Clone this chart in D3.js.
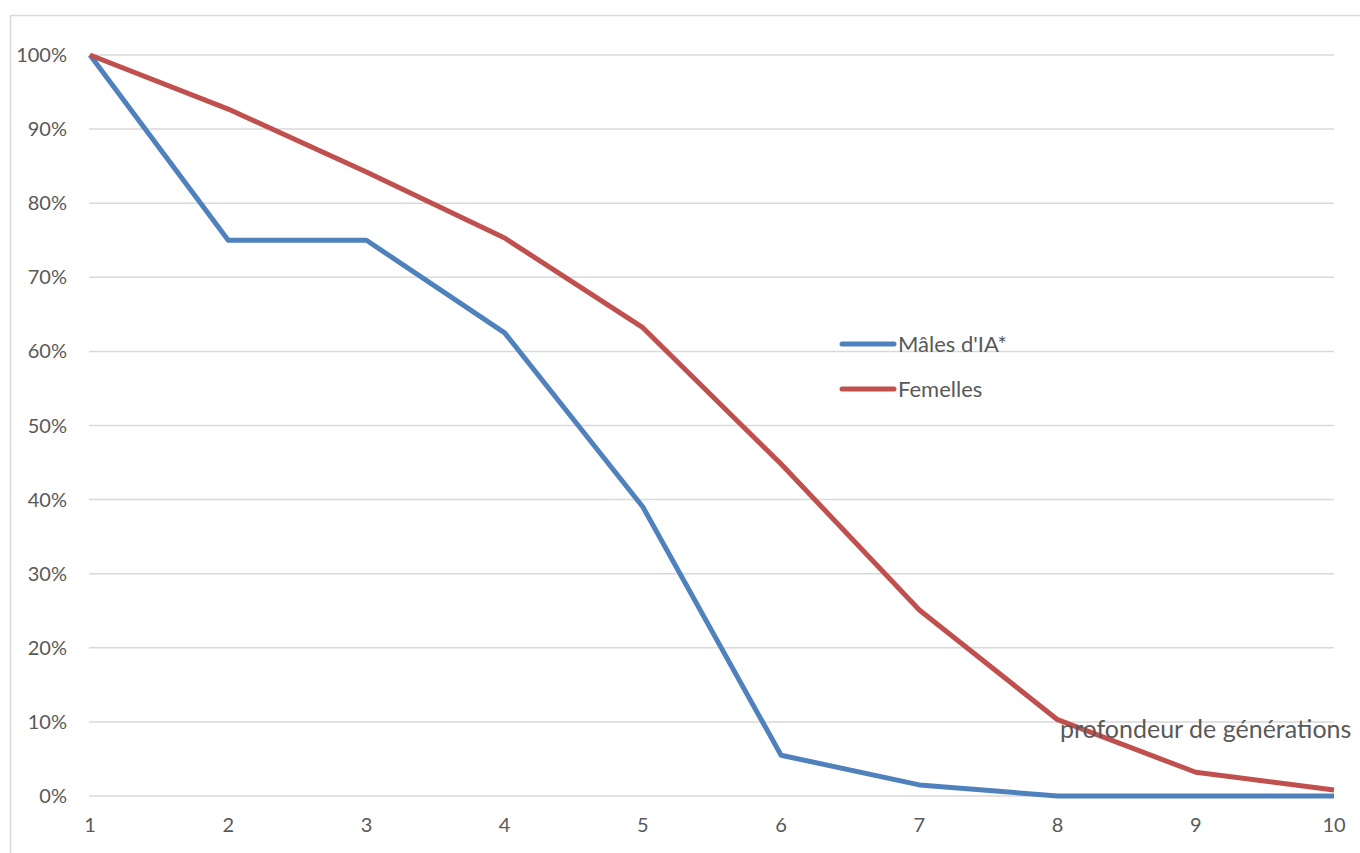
<!DOCTYPE html>
<html>
<head>
<meta charset="utf-8">
<script src="https://cdn.jsdelivr.net/npm/d3@7"></script>
<style>
  body { margin: 0; background: #fff; }
  svg { display: block; font-family: Lato, "Open Sans", sans-serif; }
</style>
</head>
<body>
<script>
var generations = [1, 2, 3, 4, 5, 6, 7, 8, 9, 10];
var males = [1.0, 0.75, 0.75, 0.625, 0.39, 0.055, 0.015, 0, 0, 0];
var femelles = [1.0, 0.927, 0.842, 0.753, 0.632, 0.448, 0.251, 0.103, 0.032, 0.008];
var yTicks = [0, 0.1, 0.2, 0.3, 0.4, 0.5, 0.6, 0.7, 0.8, 0.9, 1.0];
var seriesNames = ["Mâles d'IA*", "Femelles"];
var colors = ["#4F81BD", "#C0504D"];

var width = 1360, height = 853;

var svg = d3.select('body').append('svg')
  .attr('width', width)
  .attr('height', height);

// chart frame
svg.append('rect')
  .attr('x', 10.5).attr('y', 15.5)
  .attr('width', 1400).attr('height', 900)
  .attr('fill', 'none')
  .attr('stroke', '#d9d9d9')
  .attr('stroke-width', 1.5);

var x = d3.scaleLinear().domain([1, 10]).range([90, 1334]);
var y = d3.scaleLinear().domain([0, 1]).range([796, 55]);

// gridlines
svg.append('g')
  .selectAll('line')
  .data(yTicks)
  .enter().append('line')
  .attr('x1', 89).attr('x2', 1334)
  .attr('y1', d => y(d)).attr('y2', d => y(d))
  .attr('stroke', '#d9d9d9')
  .attr('stroke-width', 1.5);

// y labels
svg.append('g')
  .selectAll('text')
  .data(yTicks)
  .enter().append('text')
  .attr('x', 67)
  .attr('y', d => y(d) + 7)
  .attr('text-anchor', 'end')
  .attr('font-size', 20)
  .attr('fill', '#595959')
  .text(d3.format('.0%'));

// x labels
svg.append('g')
  .selectAll('text')
  .data(generations)
  .enter().append('text')
  .attr('x', d => x(d))
  .attr('y', 832)
  .attr('text-anchor', 'middle')
  .attr('font-size', 20)
  .attr('fill', '#595959')
  .text(d => d);

var line = d3.line()
  .x((d, i) => x(generations[i]))
  .y(d => y(d));

[males, femelles].forEach(function(s, i) {
  svg.append('path')
    .datum(s)
    .attr('d', line)
    .attr('fill', 'none')
    .attr('stroke', colors[i])
    .attr('stroke-width', 5)
    .attr('stroke-linejoin', 'round');
});

// axis title sits over the plot
svg.append('text')
  .attr('x', 1060)
  .attr('y', 738)
  .attr('font-size', 25)
  .attr('fill', '#595959')
  .text('profondeur de générations');

// legend
var legend = svg.append('g')
  .selectAll('g')
  .data(seriesNames)
  .enter().append('g')
  .attr('transform', (d, i) => `translate(842, ${344 + i * 45})`);

legend.append('line')
  .attr('x1', 0).attr('x2', 52)
  .attr('stroke', (d, i) => colors[i])
  .attr('stroke-width', 5)
  .attr('stroke-linecap', 'round');

legend.append('text')
  .attr('x', 56)
  .attr('y', 8)
  .attr('font-size', 22)
  .attr('fill', '#595959')
  .text(d => d);
</script>
</body>
</html>
